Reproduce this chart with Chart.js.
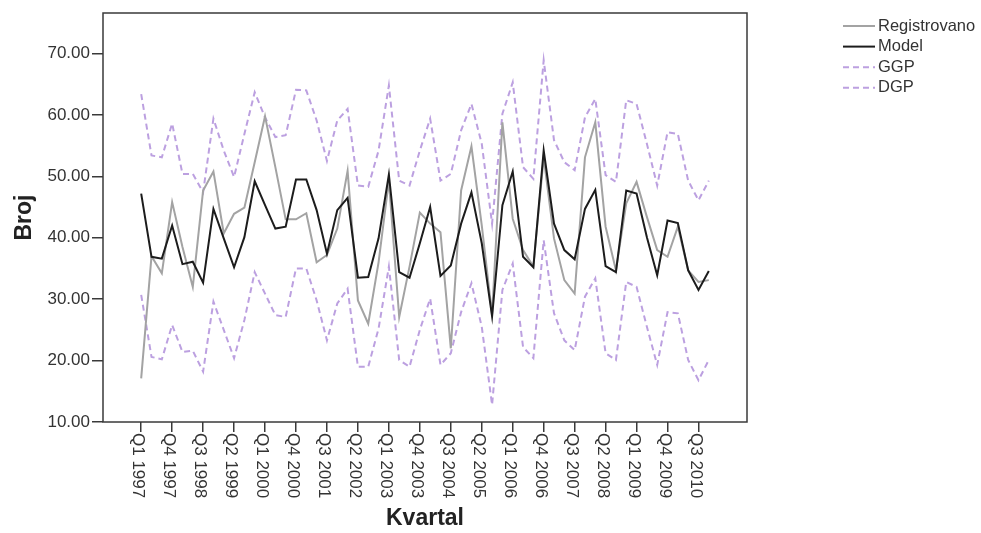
<!DOCTYPE html>
<html>
<head>
<meta charset="utf-8">
<title>Kvartal</title>
<script src="https://cdn.jsdelivr.net/npm/chart.js@4.4.1/dist/chart.umd.min.js"></script>
<style>
  body { margin: 0; background: #fff; }
  #grafikon { display: block; }
</style>
</head>
<body>
<canvas id="grafikon" width="981" height="533"></canvas>
<script>
// Kvartali Q1 1997 - Q4 2010
const godine = [1997, 1998, 1999, 2000, 2001, 2002, 2003, 2004, 2005, 2006, 2007, 2008, 2009, 2010];
const kvartali = [];
godine.forEach(g => { for (let q = 1; q <= 4; q++) kvartali.push('Q' + q + ' ' + g); });

const registrovano = [17.1, 37.0, 34.2, 45.8, 38.5, 32.0, 47.7, 50.8, 40.7, 43.9,
    44.9, 52.3, 59.8, 51.5, 43.0, 43.0, 44.0, 36.0, 37.2, 41.5,
    50.9, 29.8, 26.0, 36.0, 49.3, 27.1, 35.3, 44.1, 42.3, 40.9,
    22.0, 47.7, 54.9, 42.0, 27.5, 58.8, 43.1, 38.0, 35.3, 53.1,
    39.9, 33.1, 30.9, 53.1, 58.8, 41.8, 34.7, 45.6, 49.1, 43.4,
    38.0, 36.9, 41.8, 34.7, 32.8, 33.1];

const model = [47.2, 36.9, 36.6, 42.0, 35.7, 36.1, 32.7, 44.7, 39.9, 35.2,
    40.1, 49.2, 45.3, 41.5, 41.8, 49.5, 49.5, 44.5, 37.4, 44.5,
    46.5, 33.5, 33.6, 39.9, 50.3, 34.4, 33.5, 39.1, 45.0, 33.8,
    35.5, 42.3, 47.4, 39.1, 27.2, 45.3, 50.8, 36.9, 35.2, 54.2,
    42.3, 38.0, 36.5, 44.7, 47.8, 35.4, 34.4, 47.7, 47.2, 40.1,
    33.9, 42.8, 42.4, 34.7, 31.5, 34.6];

// gornja granica prognoze
const ggp = [63.4, 53.4, 53.1, 58.6, 50.4, 50.4, 47.4, 59.4, 54.2, 49.9,
    56.9, 63.7, 59.6, 56.4, 56.7, 64.1, 64.0, 59.1, 52.5, 59.1,
    61.0, 48.5, 48.3, 54.2, 64.8, 49.3, 48.5, 54.2, 59.4, 49.3,
    50.4, 57.5, 61.8, 55.3, 42.3, 60.2, 65.3, 51.5, 49.6, 68.9,
    55.9, 52.3, 51.0, 59.6, 62.6, 50.2, 49.1, 62.4, 61.8, 55.3,
    48.5, 57.2, 56.9, 49.3, 46.1, 49.3];

// donja granica prognoze
const dgp = [30.7, 20.6, 20.2, 25.8, 21.4, 21.6, 18.2, 29.6, 25.0, 20.4,
    26.6, 34.4, 30.9, 27.4, 27.1, 35.0, 35.0, 29.8, 23.3, 29.3,
    31.7, 19.0, 19.0, 25.2, 35.3, 20.1, 19.0, 25.0, 30.1, 19.3,
    21.2, 27.9, 32.6, 25.5, 12.8, 31.5, 35.8, 22.2, 20.4, 39.6,
    27.7, 23.3, 21.7, 30.4, 33.4, 21.2, 20.1, 32.8, 32.0, 25.5,
    19.3, 27.9, 27.7, 20.1, 16.8, 20.1];

const yTicks = [10, 20, 30, 40, 50, 60, 70];
const korakOznake = 3; // oznaka na svaki treci kvartal

const FONT = "'Liberation Sans', Arial, sans-serif";

function tacke(niz) {
    return niz.map((v, i) => ({ x: i, y: v }));
}

// okvir, oznake kvartala (rotirane nadole) i legenda
const dodaci = {
    id: 'dodaci',
    afterDraw(chart) {
        const { ctx, chartArea: a, scales: { x } } = chart;
        ctx.save();

        ctx.strokeStyle = '#3a3a3a';
        ctx.lineWidth = 1.5;
        ctx.strokeRect(a.left, a.top, a.right - a.left, a.bottom - a.top);

        ctx.fillStyle = '#333';
        ctx.font = '17px ' + FONT;
        ctx.textAlign = 'left';
        ctx.textBaseline = 'middle';
        x.ticks.forEach(t => {
            const px = x.getPixelForValue(t.value);
            ctx.save();
            ctx.translate(px - 3, a.bottom + 11);
            ctx.rotate(Math.PI / 2);
            ctx.fillText(kvartali[t.value], 0, 0);
            ctx.restore();
        });

        // legenda
        ctx.font = '16.5px ' + FONT;
        chart.data.datasets.forEach((ds, i) => {
            const y = 26 + i * 20.6;
            ctx.beginPath();
            ctx.setLineDash(ds.borderDash || []);
            ctx.strokeStyle = ds.borderColor;
            ctx.lineWidth = ds.borderWidth;
            ctx.moveTo(843, y);
            ctx.lineTo(875, y);
            ctx.stroke();
            ctx.setLineDash([]);
            ctx.fillStyle = '#333';
            ctx.fillText(ds.label, 878, y);
        });

        ctx.restore();
    }
};

document.addEventListener("DOMContentLoaded", function () {
    Chart.defaults.font.family = FONT;

    const ctx = document.getElementById('grafikon').getContext('2d');
    new Chart(ctx, {
        type: 'line',
        data: {
            datasets: [
                {
                    label: 'Registrovano',
                    data: tacke(registrovano),
                    borderColor: '#a3a3a3',
                    borderWidth: 2,
                    order: 1
                },
                {
                    label: 'Model',
                    data: tacke(model),
                    borderColor: '#1c1c1c',
                    borderWidth: 2,
                    order: 0
                },
                {
                    label: 'GGP',
                    data: tacke(ggp),
                    borderColor: 'rgb(188, 160, 224)',
                    borderWidth: 2,
                    borderDash: [6, 4],
                    order: 2
                },
                {
                    label: 'DGP',
                    data: tacke(dgp),
                    borderColor: 'rgb(188, 160, 224)',
                    borderWidth: 2,
                    borderDash: [6, 4],
                    order: 2
                }
            ]
        },
        options: {
            responsive: false,
            animation: false,
            events: [],
            elements: {
                point: { radius: 0 },
                line: { tension: 0, fill: false }
            },
            layout: { padding: { top: 13, right: 234, left: 0, bottom: 0 } },
            plugins: {
                legend: { display: false },
                tooltip: { enabled: false }
            },
            scales: {
                x: {
                    type: 'linear',
                    min: -3.7,
                    max: 58.7,
                    afterBuildTicks: scale => {
                        scale.ticks = kvartali
                            .map((k, i) => i)
                            .filter(i => i % korakOznake === 0)
                            .map(i => ({ value: i }));
                    },
                    afterFit: scale => { scale.height = 111; },
                    border: { display: false },
                    grid: {
                        drawOnChartArea: false,
                        drawTicks: true,
                        tickLength: 10,
                        color: '#3a3a3a',
                        lineWidth: 1.5
                    },
                    ticks: { display: false },
                    title: {
                        display: true,
                        text: 'Kvartal',
                        color: '#222',
                        font: { size: 23, weight: 'bold' },
                        padding: { top: 0, bottom: 1 }
                    }
                },
                y: {
                    min: 10,
                    max: 76.6,
                    afterBuildTicks: scale => {
                        scale.ticks = yTicks.map(v => ({ value: v }));
                    },
                    afterFit: scale => { scale.width = 103; },
                    border: { display: false },
                    grid: {
                        drawOnChartArea: false,
                        drawTicks: true,
                        tickLength: 11,
                        color: '#3a3a3a',
                        lineWidth: 1.5
                    },
                    ticks: {
                        color: '#333',
                        font: { size: 17 },
                        padding: 2,
                        callback: v => v.toFixed(2)
                    },
                    title: {
                        display: true,
                        text: 'Broj',
                        color: '#222',
                        font: { size: 23, weight: 'bold' },
                        padding: { top: 11, bottom: 0 }
                    }
                }
            }
        },
        plugins: [dodaci]
    });
});
</script>
</body>
</html>
